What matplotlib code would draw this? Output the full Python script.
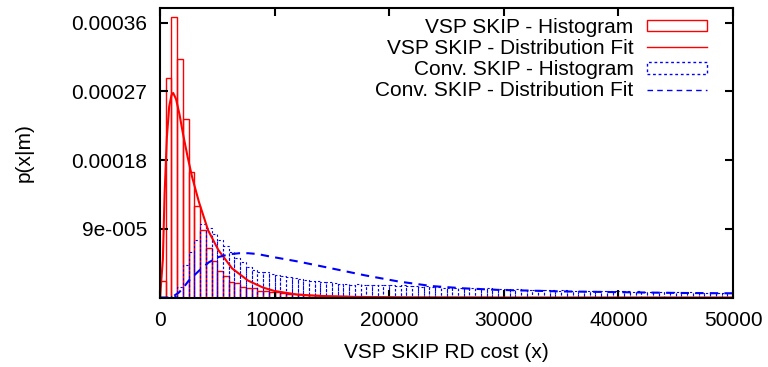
import numpy as np
import matplotlib
matplotlib.use("Agg")
from matplotlib import pyplot as plt
from matplotlib.patches import Patch
from matplotlib.lines import Line2D

plt.rcParams['font.family'] = ['Liberation Sans', 'DejaVu Sans']
plt.rcParams['font.size'] = 15

# histogram bins: 500 wide, 0 .. 50000
bin_width = 500
bin_left = np.arange(0, 50000, bin_width)

vsp_hist = [
    2.2e-5, 2.87e-4, 3.67e-4, 3.12e-4, 2.34e-4, 1.65e-4, 1.20e-4, 8.8e-5, 6.5e-5, 4.8e-5,
    3.5e-5, 2.8e-5, 2.0e-5, 1.9e-5, 1.4e-5, 1.2e-5, 1.2e-5, 9e-6, 8e-6, 7.5e-6,
    7e-6, 6e-6, 5e-6, 4.5e-6, 4e-6, 3.5e-6, 3e-6, 3e-6, 2.5e-6, 2e-6,
    2e-6, 1.5e-6, 1.5e-6, 1.2e-6, 1e-6, 1e-6, 8e-7, 8e-7, 6e-7, 6e-7,
    5e-7, 5e-7, 4e-7, 4e-7, 3e-7, 3e-7, 3e-7, 2e-7, 2e-7, 2e-7,
    2e-7, 1e-7, 1e-7, 1e-7, 1e-7, 1e-7, 1e-7, 1e-7, 0, 0,
    0, 0, 0, 0, 0, 0, 0, 0, 0, 0,
    0, 0, 0, 0, 0, 0, 0, 0, 0, 0,
    0, 0, 0, 0, 0, 0, 0, 0, 0, 0,
    0, 0, 0, 0, 0, 0, 0, 0, 0, 0,
]

conv_hist = [
    0, 0, 2e-6, 1.4e-5, 4.3e-5, 5.9e-5, 7.6e-5, 9.6e-5, 9.1e-5, 8.3e-5,
    7.6e-5, 6.7e-5, 5.9e-5, 5.2e-5, 4.6e-5, 4.0e-5, 3.6e-5, 3.4e-5, 3.3e-5, 3.1e-5,
    3.0e-5, 2.8e-5, 2.7e-5, 2.6e-5, 2.4e-5, 2.3e-5, 2.2e-5, 2.1e-5, 2.0e-5, 2.0e-5,
    1.9e-5, 1.8e-5, 1.8e-5, 1.7e-5, 1.8e-5, 1.7e-5, 1.7e-5, 1.6e-5, 1.7e-5, 1.6e-5,
    1.6e-5, 1.5e-5, 1.6e-5, 1.5e-5, 1.5e-5, 1.4e-5, 1.5e-5, 1.4e-5, 1.4e-5, 1.3e-5,
    1.3e-5, 1.3e-5, 1.2e-5, 1.3e-5, 1.2e-5, 1.2e-5, 1.1e-5, 1.2e-5, 1.1e-5, 1.1e-5,
    1.1e-5, 1.0e-5, 1.1e-5, 1.0e-5, 1.0e-5, 1.0e-5, 9.5e-6, 1.0e-5, 9.5e-6, 9e-6,
    9.5e-6, 9e-6, 9e-6, 8.5e-6, 9e-6, 8.5e-6, 8.5e-6, 8e-6, 8.5e-6, 8e-6,
    8e-6, 8e-6, 7.5e-6, 8e-6, 7.5e-6, 7.5e-6, 7e-6, 7.5e-6, 7e-6, 7e-6,
    7e-6, 6.5e-6, 7e-6, 6.5e-6, 6.5e-6, 6.5e-6, 6e-6, 6.5e-6, 6e-6, 6e-6,
]

# fitted distributions
vsp_fit_x = [0, 250, 400, 600, 800, 1000, 1150, 1400, 1700, 2000, 2400, 2800, 3400,
             4200, 5100, 6300, 7700, 9000, 10000, 12000, 14000, 17000, 22000, 30000, 50000]
vsp_fit_y = [0, 5e-5, 1.35e-4, 2.1e-4, 2.5e-4, 2.65e-4, 2.68e-4, 2.6e-4, 2.4e-4, 2.15e-4,
             1.85e-4, 1.58e-4, 1.25e-4, 8.8e-5, 6.2e-5, 3.8e-5, 2.2e-5, 1.3e-5, 8.5e-6,
             3.8e-6, 2e-6, 8e-7, 2e-7, 0, 0]

conv_fit_x = [0, 800, 1200, 1650, 2100, 2500, 3400, 4250, 5100, 6000, 6900, 7700, 8500,
              9500, 12100, 14700, 17900, 20800, 23700, 26500, 29500, 35000, 40000, 45000, 50000]
conv_fit_y = [0, 0, 2e-6, 6.5e-6, 1.4e-5, 2.2e-5, 3.5e-5, 4.6e-5, 5.3e-5, 5.65e-5, 5.8e-5,
              5.8e-5, 5.7e-5, 5.4e-5, 4.7e-5, 3.9e-5, 2.9e-5, 2.1e-5, 1.5e-5, 1.2e-5,
              1.0e-5, 8e-6, 7e-6, 6e-6, 5.5e-6]

xticks = [0, 10000, 20000, 30000, 40000, 50000]
yticks = [9e-5, 1.8e-4, 2.7e-4, 3.6e-4]
ytick_labels = ['9e-005', '0.00018', '0.00027', '0.00036']

fig = plt.figure(figsize=(7.68, 3.67), dpi=100)
ax = fig.add_axes([160 / 768, 1 - 297.5 / 367, 573 / 768, 290 / 367])

ax.bar(bin_left, vsp_hist, width=bin_width, align='edge', fill=False,
       edgecolor='#ff0000', linewidth=1.0)
ax.bar(bin_left, conv_hist, width=bin_width, align='edge', fill=False,
       edgecolor='#0000ff', linewidth=0.8, linestyle=(0, (2, 2)))
ax.plot(vsp_fit_x, vsp_fit_y, color='#ff0000', linewidth=1.5)
ax.plot(conv_fit_x, conv_fit_y, color='#0000ff', linewidth=1.5, linestyle=(0, (4, 3)))

ax.set_xlim(0, 50000)
ax.set_ylim(0, 0.00038)
ax.set_xticks(xticks)
ax.set_xticklabels([str(v) for v in xticks])
ax.set_yticks(yticks)
ax.set_yticklabels(ytick_labels)
ax.tick_params(direction='in', length=6, width=1.5, top=True, right=True)
ax.tick_params(axis='x', pad=10)
ax.tick_params(axis='y', pad=9)
for s in ax.spines.values():
    s.set_linewidth(1.5)

ax.set_xlabel('VSP SKIP RD cost (x)', labelpad=9)
ax.set_ylabel('p(x|m)', labelpad=27)

handles = [
    Patch(facecolor='none', edgecolor='#ff0000', linewidth=1.0),
    Line2D([], [], color='#ff0000', linewidth=1.0),
    Patch(facecolor='none', edgecolor='#0000ff', linewidth=1.0, linestyle=(0, (2, 2))),
    Line2D([], [], color='#0000ff', linewidth=1.0, linestyle=(0, (4, 3))),
]
labels = ['VSP SKIP - Histogram', 'VSP SKIP - Distribution Fit',
          'Conv. SKIP - Histogram', 'Conv. SKIP - Distribution Fit']
ax.legend(handles, labels, loc='upper right', bbox_to_anchor=(0.955, 0.964),
          frameon=False, markerfirst=False, borderpad=0, borderaxespad=0,
          handlelength=2.9, handleheight=0.5, handletextpad=0.63, labelspacing=0.1)

fig.savefig('out.png', dpi=100)
